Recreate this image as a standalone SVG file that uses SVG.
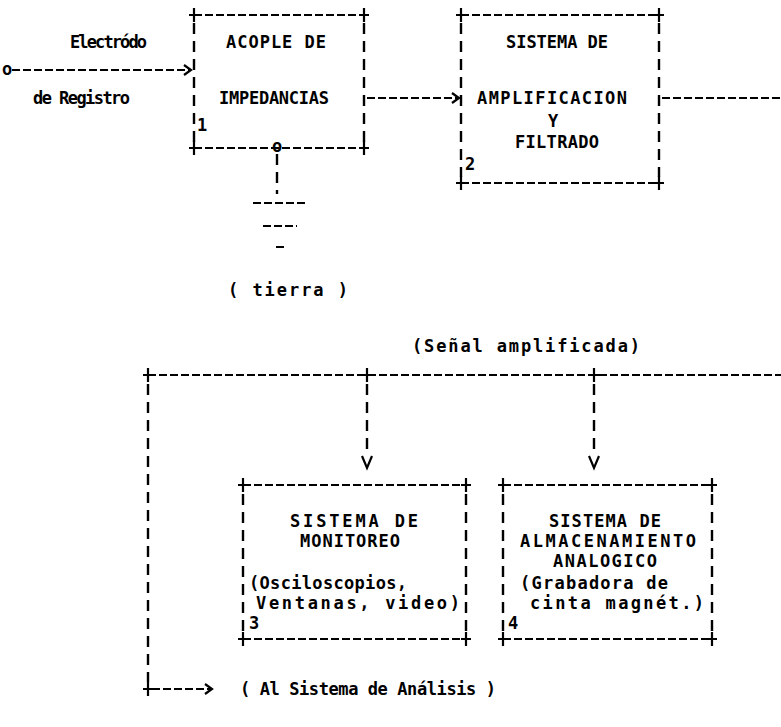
<svg xmlns="http://www.w3.org/2000/svg" width="781" height="727" viewBox="0 0 781 727">
<style>
text{font-family:"DejaVu Sans Mono","Liberation Mono",monospace;font-weight:bold;font-size:17px;fill:#000}
.h{fill:none;stroke:#000;stroke-width:2.2;stroke-dasharray:8 3}
.v{fill:none;stroke:#000;stroke-width:2.4;stroke-dasharray:11 7}
.c{fill:none;stroke:#000;stroke-width:2.2}
</style>
<defs>
<symbol id="plus" overflow="visible"><path d="M-5 0H5M0 -7V7" fill="none" stroke="#000" stroke-width="2.2"/></symbol>
<marker id="arr" markerWidth="10" markerHeight="12" refX="8" refY="6" orient="auto" markerUnits="userSpaceOnUse"><path d="M1 1L8 6L1 11" fill="none" stroke="#000" stroke-width="2.2"/></marker>
</defs>
<rect width="781" height="727" fill="#fff"/>

<g id="n1">
<path class="h" d="M194 15H364M194 148H364"/>
<path class="v" d="M194 23V142M364 23V142"/>
<use href="#plus" x="194" y="15"/><use href="#plus" x="364" y="15"/>
<use href="#plus" x="194" y="148"/><use href="#plus" x="364" y="148"/>
<text x="226" y="48" textLength="100">ACOPLE DE</text>
<text x="219" y="104" textLength="110">IMPEDANCIAS</text>
<text x="197" y="131">1</text>
</g>

<g id="n2">
<path class="h" d="M461 15H659M461 183H659"/>
<path class="v" d="M461 23V177M659 23V177"/>
<use href="#plus" x="461" y="15"/><use href="#plus" x="659" y="15"/>
<use href="#plus" x="461" y="183"/><use href="#plus" x="659" y="183"/>
<text x="506" y="48" textLength="102">SISTEMA DE</text>
<text x="477" y="104" textLength="150">AMPLIFICACION</text>
<text x="548" y="127">Y</text>
<text x="515" y="148" textLength="84">FILTRADO</text>
<text x="465" y="170">2</text>
</g>

<g id="n3">
<path class="h" d="M243 485H466M243 639H466"/>
<path class="v" d="M243 494V633M466 494V633"/>
<use href="#plus" x="243" y="485"/><use href="#plus" x="466" y="485"/>
<use href="#plus" x="243" y="639"/><use href="#plus" x="466" y="639"/>
<text x="290" y="527" textLength="128">SISTEMA  DE</text>
<text x="300" y="547" textLength="100">MONITOREO</text>
<text x="249" y="589" textLength="158">(Osciloscopios,</text>
<text x="256" y="609" textLength="204">Ventanas, video)</text>
<text x="249" y="629">3</text>
</g>

<g id="n4">
<path class="h" d="M503 485H712M503 639H712"/>
<path class="v" d="M503 494V633M712 494V633"/>
<use href="#plus" x="503" y="485"/><use href="#plus" x="712" y="485"/>
<use href="#plus" x="503" y="639"/><use href="#plus" x="712" y="639"/>
<text x="549" y="527" textLength="112">SISTEMA DE</text>
<text x="520" y="547" textLength="176">ALMACENAMIENTO</text>
<text x="553" y="567" textLength="104">ANALOGICO</text>
<text x="520" y="589" textLength="148">(Grabadora de</text>
<text x="530" y="609" textLength="174">cinta magnét.)</text>
<text x="508" y="629">4</text>
</g>

<g id="ground">
<path class="v" d="M277 154V194"/>
<path class="c" d="M253 203H308M263 226H297M276 247H285" stroke-dasharray="8 3"/>
<text x="228" y="296" textLength="120">( tierra )</text>
</g>

<g id="connectors">
<text x="2" y="75">o</text>
<path class="h" d="M12 70H191" marker-end="url(#arr)"/>
<text x="70" y="48" textLength="77">Electródo</text>
<text x="33" y="104" textLength="97">de Registro</text>
<path class="h" d="M367 98H459" marker-end="url(#arr)"/>
<path class="h" d="M662 98H781"/>
<text x="272" y="152" font-size="15">o</text>
<text x="412" y="352" textLength="228">(Señal amplificada)</text>
<path class="h" d="M148 375H781"/>
<use href="#plus" x="148" y="375"/><use href="#plus" x="367" y="375"/><use href="#plus" x="594" y="375"/>
<path class="v" d="M367 384V450"/>
<path class="c" d="M362 456L367 468L372 456"/>
<path class="v" d="M594 384V450"/>
<path class="c" d="M589 456L594 468L599 456"/>
<path class="v" d="M148 384V682"/>
<use href="#plus" x="148" y="689"/>
<path class="h" d="M152 689H212" marker-end="url(#arr)"/>
<text x="240" y="695" textLength="256">( Al Sistema de Análisis )</text>
</g>
</svg>
